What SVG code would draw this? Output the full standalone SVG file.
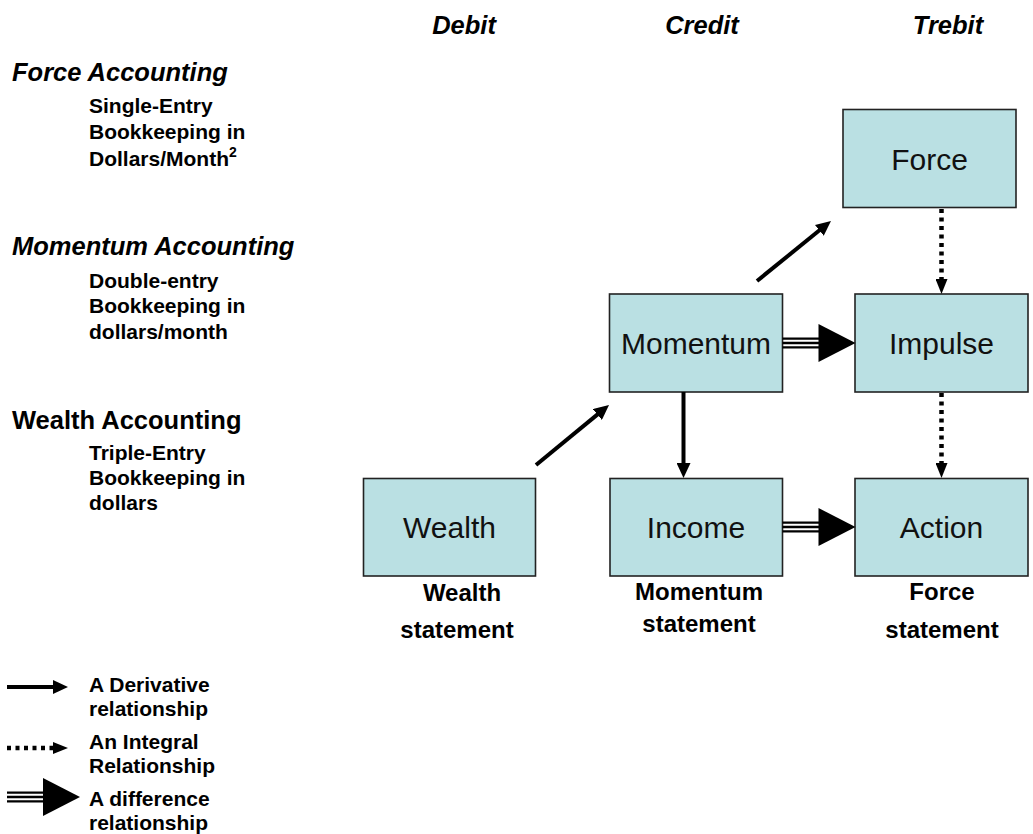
<svg xmlns="http://www.w3.org/2000/svg" xmlns:xlink="http://www.w3.org/1999/xlink" width="1033" height="834" viewBox="0 0 1033 834">
<style>
.box{fill:#BAE0E3;stroke:#222;stroke-width:1.6}
.nt{font-family:"Liberation Sans",Arial,sans-serif;font-size:30px;fill:#111;text-anchor:middle}
.hd{font-family:"Liberation Sans",Arial,sans-serif;font-size:25.5px;font-weight:bold;font-style:italic;fill:#000}
.hn{font-family:"Liberation Sans",Arial,sans-serif;font-size:25.5px;font-weight:bold;fill:#000}
.sb{font-family:"Liberation Sans",Arial,sans-serif;font-size:21px;font-weight:bold;fill:#000}
.st{font-family:"Liberation Sans",Arial,sans-serif;font-size:24px;font-weight:bold;fill:#000;text-anchor:middle}
.col{font-family:"Liberation Sans",Arial,sans-serif;font-size:25.5px;font-weight:bold;font-style:italic;fill:#000;text-anchor:middle}
.der{stroke:#000;stroke-width:4;fill:none;marker-end:url(#ad)}
.int{stroke:#000;stroke-width:4.5;fill:none;stroke-dasharray:4 4.5;marker-end:url(#ai)}
.tl{stroke:#000;stroke-width:2.3}
</style>
<defs>
<marker id="ad" markerUnits="userSpaceOnUse" markerWidth="15" markerHeight="14" viewBox="0 -7 15 14" refX="1" refY="0" orient="auto"><path d="M0,-7 L15,0 L0,7 z" fill="#000"/></marker>
<marker id="ai" markerUnits="userSpaceOnUse" markerWidth="15" markerHeight="12" viewBox="0 -6 15 12" refX="1" refY="0" orient="auto"><path d="M0,-6 L15,0 L0,6 z" fill="#000"/></marker>
<g id="diff">
<line class="tl" x1="0" y1="-4.3" x2="37" y2="-4.3"/>
<line class="tl" x1="0" y1="0" x2="37" y2="0"/>
<line class="tl" x1="0" y1="4.3" x2="37" y2="4.3"/>
<path d="M36,-19 L73,0 L36,19 z" fill="#000"/>
</g>
</defs>

<g id="column-headers">
<text class="col" x="464" y="34">Debit</text>
<text class="col" x="702" y="34">Credit</text>
<text class="col" x="948" y="34">Trebit</text>
</g>

<g id="force-accounting">
<text class="hd" x="12" y="81">Force Accounting</text>
<text class="sb" x="89" y="113">Single-Entry</text>
<text class="sb" x="89" y="139">Bookkeeping in</text>
<text class="sb" x="89" y="166">Dollars/Month<tspan font-size="14" dy="-9">2</tspan></text>
</g>

<g id="momentum-accounting">
<text class="hd" x="12" y="255">Momentum Accounting</text>
<text class="sb" x="89" y="288">Double-entry</text>
<text class="sb" x="89" y="313">Bookkeeping in</text>
<text class="sb" x="89" y="339">dollars/month</text>
</g>

<g id="wealth-accounting">
<text class="hn" x="12" y="429">Wealth Accounting</text>
<text class="sb" x="89" y="460">Triple-Entry</text>
<text class="sb" x="89" y="485">Bookkeeping in</text>
<text class="sb" x="89" y="510">dollars</text>
</g>

<g id="force">
<rect class="box" x="843" y="109.5" width="173" height="98"/>
<text class="nt" x="929.5" y="170">Force</text>
</g>
<g id="momentum">
<rect class="box" x="609.5" y="294" width="173" height="98"/>
<text class="nt" x="696" y="354">Momentum</text>
</g>
<g id="impulse">
<rect class="box" x="855" y="294" width="173" height="98"/>
<text class="nt" x="941.5" y="354">Impulse</text>
</g>
<g id="wealth">
<rect class="box" x="363.5" y="478.5" width="172" height="97.5"/>
<text class="nt" x="449.5" y="538">Wealth</text>
</g>
<g id="income">
<rect class="box" x="610" y="478.5" width="172.5" height="97.5"/>
<text class="nt" x="696" y="538">Income</text>
</g>
<g id="action">
<rect class="box" x="855" y="478.5" width="173" height="97.5"/>
<text class="nt" x="941.5" y="538">Action</text>
</g>

<g id="statements">
<text class="st" x="462" y="601">Wealth</text>
<text class="st" x="457" y="638">statement</text>
<text class="st" x="699" y="600">Momentum</text>
<text class="st" x="699" y="632">statement</text>
<text class="st" x="942" y="600">Force</text>
<text class="st" x="942" y="638">statement</text>
</g>

<g id="connectors">
<line class="der" x1="536" y1="465" x2="598.2" y2="413.9"/>
<line class="der" x1="757" y1="281" x2="820.1" y2="229.8"/>
<line class="der" x1="683.5" y1="392" x2="683.5" y2="464"/>
<line class="int" x1="941.5" y1="209" x2="941.5" y2="280"/>
<line class="int" x1="941.5" y1="393" x2="941.5" y2="464"/>
<use xlink:href="#diff" x="782.5" y="343"/>
<use xlink:href="#diff" x="782.5" y="527"/>
</g>

<g id="legend">
<line class="der" x1="7" y1="687" x2="54" y2="687"/>
<text class="sb" x="89" y="692">A Derivative</text>
<text class="sb" x="89" y="716">relationship</text>
<line class="int" x1="7" y1="748" x2="54" y2="748"/>
<text class="sb" x="89" y="749">An Integral</text>
<text class="sb" x="89" y="773">Relationship</text>
<use xlink:href="#diff" x="7" y="797"/>
<text class="sb" x="89" y="806">A difference</text>
<text class="sb" x="89" y="830">relationship</text>
</g>
</svg>
